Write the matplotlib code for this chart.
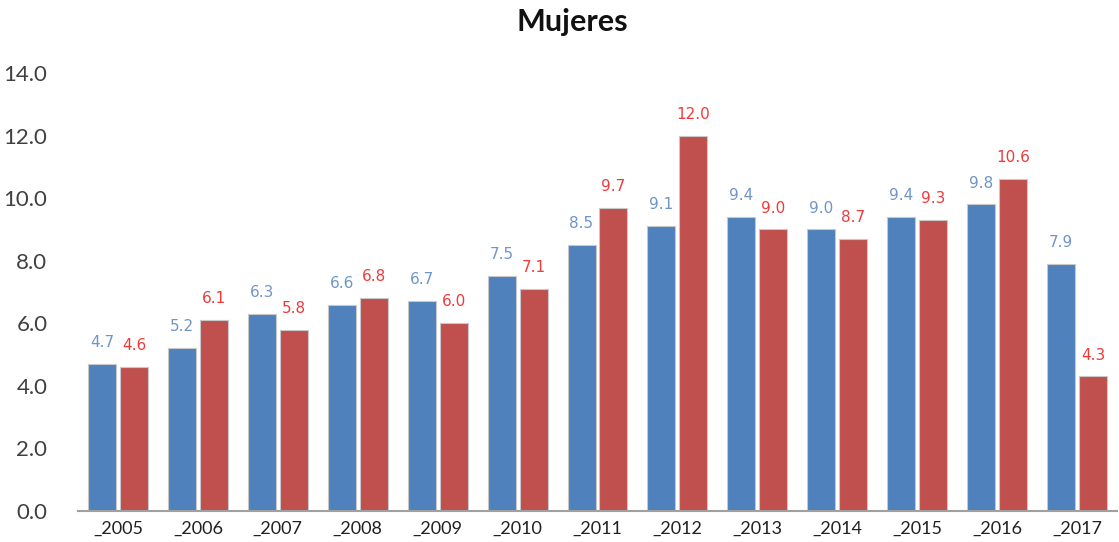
import numpy as np
import matplotlib
matplotlib.use("Agg")
import matplotlib.pyplot as plt

# data
years = ["_2005", "_2006", "_2007", "_2008", "_2009", "_2010", "_2011",
         "_2012", "_2013", "_2014", "_2015", "_2016", "_2017"]
blue_vals = [4.7, 5.2, 6.3, 6.6, 6.7, 7.5, 8.5, 9.1, 9.4, 9.0, 9.4, 9.8, 7.9]
red_vals = [4.6, 6.1, 5.8, 6.8, 6.0, 7.1, 9.7, 12.0, 9.0, 8.7, 9.3, 10.6, 4.3]

fig = plt.figure(figsize=(11.19, 5.42), dpi=100)
ax = fig.add_axes([78 / 1119, 31 / 542, 1039 / 1119, 438 / 542])

x = np.arange(len(years))
w = 0.35
gap = 0.025
b1 = ax.bar(x - w / 2 - gap, blue_vals, w, color="#4f81bd", edgecolor="#c8c8c8", linewidth=0.8)
b2 = ax.bar(x + w / 2 + gap, red_vals, w, color="#c0504d", edgecolor="#c8c8c8", linewidth=0.8)

ax.bar_label(b1, labels=["%.1f" % v for v in blue_vals], padding=10,
             color="#6f95c8", fontsize=11, fontfamily="DejaVu Sans")
ax.bar_label(b2, labels=["%.1f" % v for v in red_vals], padding=10,
             color="#f03a3a", fontsize=11, fontfamily="DejaVu Sans")

ax.set_xlim(-0.5, len(years) - 0.5)
ax.set_ylim(0, 14)
ax.set_yticks(np.arange(0, 14.1, 2))
ax.set_yticklabels(["%.1f" % v for v in np.arange(0, 14.1, 2)], fontsize=16,
                   family="Lato", color="#404040")
ax.set_xticks(x)
ax.set_xticklabels(years, fontsize=13, family="Lato", color="#202020")
ax.tick_params(axis="both", length=0)
ax.tick_params(axis="y", pad=22)
ax.tick_params(axis="x", pad=7)

for s in ["top", "right", "left"]:
    ax.spines[s].set_visible(False)
ax.spines["bottom"].set_color("#a0a0a0")
ax.spines["bottom"].set_linewidth(1.5)

fig.text(572 / 1119, 1 - 22 / 542, "Mujeres", ha="center", va="center",
         fontsize=22, fontweight="bold", family="Lato", color="#111111")

fig.savefig("out.png", dpi=100)
